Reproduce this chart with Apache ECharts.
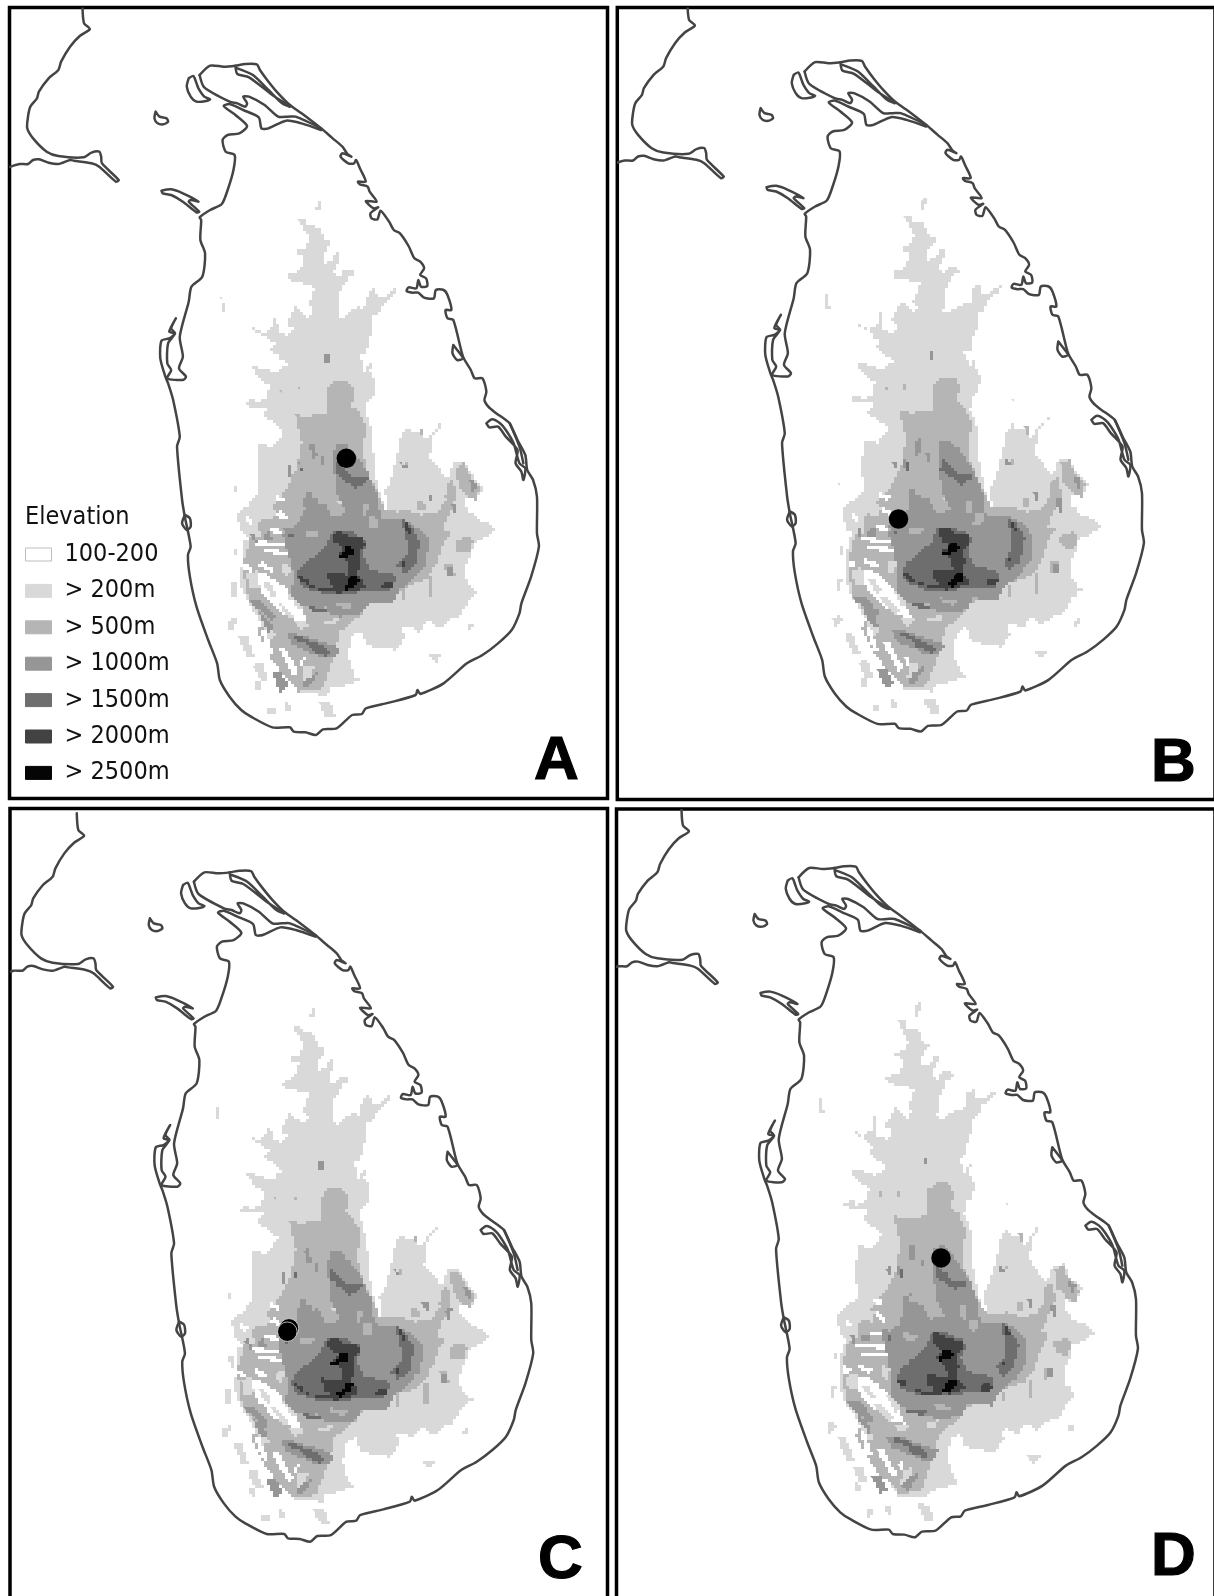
<!DOCTYPE html>
<html><head><meta charset="utf-8">
<style>html,body{margin:0;padding:0;background:#fff}#c{width:1214px;height:1596px}</style>
<script src="https://cdn.jsdelivr.net/npm/echarts@6/dist/echarts.min.js"></script>
</head><body><div id="c"></div>
<script>
// ---- coastline, map units A ----
const coastIndia=[[212,20],[216,70],[231,87],[205,108],[180,140],[157,185],[150,210],[125,235],[100,275],[95,295],[78,320],[72,350],[70,385],[85,415],[120,455],[150,468],[215,472],[235,458],[255,455],[260,470],[262,490],[305,540],[298,545],[255,500],[235,490],[190,482],[180,480],[150,492],[125,488],[100,478],[85,480],[72,492],[50,492],[20,503]];
const coastMain=[[513,225],[540,197],[575,200],[605,197],[630,192],[660,193],[668,210],[690,245],[715,280],[745,315],[775,340],[825,385],[855,415],[880,440],[893,462],[903,470],[880,460],[875,470],[895,490],[910,490],[915,480],[925,505],[940,545],[920,545],[925,553],[945,560],[950,575],[968,605],[940,603],[960,625],[972,622],[952,640],[955,655],[970,658],[978,632],[1000,665],[1012,690],[1028,700],[1050,738],[1065,775],[1080,785],[1090,805],[1080,825],[1095,835],[1098,858],[1082,860],[1075,840],[1070,865],[1050,862],[1045,873],[1060,878],[1075,878],[1090,893],[1115,895],[1120,870],[1140,870],[1150,885],[1160,930],[1145,930],[1150,955],[1165,960],[1190,1070],[1210,1110],[1220,1135],[1240,1135],[1250,1175],[1245,1200],[1255,1220],[1270,1235],[1300,1260],[1310,1270],[1330,1320],[1350,1365],[1355,1410],[1370,1440],[1380,1490],[1380,1600],[1385,1640],[1365,1730],[1340,1810],[1335,1840],[1315,1890],[1280,1930],[1240,1965],[1200,1990],[1140,2050],[1080,2082],[1073,2070],[1068,2085],[1000,2108],[940,2125],[930,2142],[905,2145],[865,2185],[830,2188],[812,2205],[785,2197],[755,2195],[745,2182],[700,2182],[645,2150],[620,2130],[590,2090],[565,2040],[558,1990],[535,1920],[505,1820],[488,1730],[483,1665],[490,1640],[475,1550],[468,1500],[455,1340],[462,1310],[445,1200],[432,1150],[425,1130],[412,1075],[415,1022],[435,1015],[450,1000],[435,995],[452,955],[440,985],[450,1000],[432,1030],[430,1090],[440,1110],[430,1135],[470,1140],[478,1130],[460,1105],[470,1070],[462,1010],[485,905],[492,860],[520,830],[527,760],[515,720],[517,660],[513,652],[540,630],[570,612],[585,570],[600,510],[603,465],[580,455],[572,420],[585,405],[615,400],[635,378],[605,345],[575,318],[590,312],[625,330],[665,352],[672,385],[690,385],[735,362],[775,370],[825,390]];
const coastPeninsula=[[513,225],[525,262],[590,305],[610,310],[630,320],[635,310],[625,290],[640,290],[680,315],[715,350],[740,350],[760,350],[825,385]];
const coastStrip=[[605,197],[610,222],[640,232],[700,285],[745,320],[725,310],[690,270],[650,225],[610,205]];
const coastKarai=[[485,235],[497,228],[505,250],[510,265],[525,290],[540,298],[530,303],[505,305],[490,290],[480,260],[485,235]];
const coastBatti=[[1250,1270],[1265,1258],[1285,1270],[1300,1290],[1320,1330],[1335,1390],[1350,1405],[1345,1440],[1340,1415],[1325,1390],[1330,1350],[1300,1310],[1280,1280],[1258,1282],[1250,1270]];
const coastBattiInner=[[1310,1270],[1335,1340],[1345,1390]];
const coastLoop=[[1165,1035],[1175,1050],[1190,1075],[1175,1080],[1163,1060],[1165,1035]];
const coastKalutara=[[475,1545],[488,1555],[490,1580],[480,1590],[468,1570],[475,1545]];
const coastDelft=[[400,335],[410,350],[428,355],[432,365],[420,373],[405,370],[397,355],[400,335]];
const coastMannar=[[415,572],[440,568],[470,580],[510,605],[490,600],[485,605],[512,635],[505,637],[470,605],[440,585],[418,580],[415,572]];
const coastLines=[coastIndia,coastMain,coastPeninsula,coastStrip,coastKarai,coastBatti,coastBattiInner,coastLoop,coastKalutara,coastDelft,coastMannar];

// ---- elevation, map units B ----
const elev200=[
[[235,55],[258,58],[262,78],[285,80],[300,90],[312,120],[340,128],[325,145],[308,170],[310,190],[330,185],[345,160],[362,158],[355,190],[340,215],[350,232],[370,210],[390,210],[405,225],[385,235],[375,258],[360,285],[355,345],[365,355],[385,335],[410,320],[430,325],[440,300],[445,270],[465,260],[470,290],[490,290],[515,270],[535,262],[520,290],[490,315],[475,345],[455,350],[458,390],[445,430],[440,460],[415,470],[430,495],[430,520],[445,490],[458,485],[450,520],[465,545],[462,590],[445,600],[435,640],[445,660],[458,700],[462,800],[478,880],[495,930],[505,945],[495,865],[512,840],[530,770],[545,700],[560,680],[575,700],[600,695],[615,725],[650,675],[672,665],[640,710],[630,775],[660,815],[680,840],[700,790],[735,785],[750,825],[765,840],[790,865],[770,900],[740,890],[735,920],[760,950],[800,970],[825,995],[790,1020],[760,1030],[755,1070],[740,1095],[735,1140],[760,1170],[775,1180],[745,1205],[720,1250],[695,1255],[660,1285],[625,1260],[600,1295],[570,1280],[545,1285],[555,1315],[530,1350],[500,1345],[465,1340],[440,1330],[425,1295],[395,1310],[385,1370],[405,1430],[420,1440],[385,1455],[335,1465],[325,1485],[240,1480],[205,1420],[160,1345],[130,1270],[105,1235],[80,1195],[60,1150],[65,1090],[70,1010],[50,940],[115,880],[110,810],[115,730],[150,740],[180,710],[190,690],[130,645],[145,620],[95,620],[70,605],[100,595],[110,610],[140,590],[150,555],[130,545],[95,500],[130,505],[165,520],[205,490],[165,460],[145,450],[165,430],[140,410],[100,385],[130,400],[160,380],[165,335],[175,400],[200,410],[220,385],[195,370],[220,330],[225,315],[260,350],[280,325],[265,310],[285,260],[250,250],[215,245],[200,225],[240,210],[255,170],[225,155],[255,140],[270,115],[250,80]],
[[293,5],[305,2],[303,25],[295,42],[288,25]],
[[1,288],[8,290],[14,335],[5,335]],
[[140,1525],[165,1520],[165,1540],[145,1545]],
[[195,1510],[215,1515],[215,1535],[200,1530]],
[[295,1505],[330,1510],[345,1555],[320,1555]],
[[20,1265],[45,1255],[50,1275],[35,1295]],
[[55,1305],[80,1310],[105,1375],[85,1375]],
[[100,1395],[125,1390],[145,1440],[125,1440]],
[[745,1270],[760,1265],[762,1285],[750,1290]],
[[620,1360],[670,1362],[650,1385]],
[[40,860],[50,860],[48,875]],
[[35,1150],[50,1150],[48,1190],[35,1185]],
[[42,1050],[55,1050],[55,1080]],
[[560,605],[568,605],[566,612]],
[[105,1440],[120,1440],[125,1470],[110,1470]]
];
const elev500=[
[[225,640],[250,650],[320,640],[325,560],[350,540],[380,540],[405,575],[395,620],[420,640],[440,690],[430,740],[435,800],[470,880],[495,930],[530,935],[560,930],[600,945],[650,935],[670,905],[690,900],[700,920],[680,960],[670,990],[690,1000],[670,1040],[655,1080],[640,1110],[620,1140],[560,1160],[500,1190],[440,1220],[420,1250],[360,1300],[350,1340],[340,1380],[320,1430],[310,1465],[240,1475],[225,1450],[180,1410],[150,1370],[110,1295],[130,1250],[85,1195],[75,1150],[70,1080],[90,1010],[120,960],[170,900],[200,860],[230,800],[245,720]],
[[705,800],[730,790],[750,830],[780,870],[770,900],[740,885],[715,850]],
[[680,850],[700,840],[710,900],[690,920],[675,890]],
[[675,1095],[695,1095],[705,1125],[680,1130]],
[[705,1020],[740,1005],[760,1030],[745,1060],[710,1050]],
[[590,905],[610,900],[615,930],[595,930]],
[[630,1130],[640,1130],[640,1190],[630,1190]],
[[545,1165],[555,1165],[555,1200],[545,1200]],
[[598,690],[612,695],[608,715]],
[[555,790],[570,785],[562,810]],
[[180,570],[190,570],[188,590]],
[[235,565],[245,570],[242,595]]
];
const over200=[
[[300,870],[325,875],[318,905]],
[[350,905],[395,905],[385,925]],
[[130,920],[170,930],[160,960],[125,950]],
[[85,985],[115,975],[120,1010],[90,1015]],
[[80,1120],[110,1110],[120,1160],[90,1165]],
[[225,1265],[280,1270],[250,1290]],
[[300,1270],[360,1250],[350,1275]],
[[110,1240],[135,1250],[165,1310],[145,1320]],
[[250,1400],[285,1395],[270,1440],[245,1450]],
[[150,780],[180,790],[170,830],[145,820]],
[[190,1090],[215,1100],[205,1130],[185,1120]]
];
const elevGaps=[
[[115,1120],[135,1120],[200,1170],[240,1230],[260,1265],[215,1255],[170,1220],[130,1180],[118,1150]],
[[105,1022],[200,1030],[200,1040],[105,1033]],
[[130,1048],[215,1056],[215,1066],[130,1058]],
[[150,985],[190,992],[190,1002],[150,995]],
[[60,1000],[85,1015],[82,1025],[60,1012]],
[[70,1092],[95,1105],[92,1115],[68,1102]],
[[165,888],[195,900],[190,910],[165,900]],
[[175,930],[205,955],[195,960],[170,940]],
[[80,950],[100,965],[95,975],[78,960]],
[[120,1085],[160,1105],[155,1115],[118,1095]],
[[122,1290],[135,1290],[160,1360],[148,1365]],
[[175,1340],[190,1340],[235,1420],[222,1425]],
[[235,1385],[255,1370],[250,1405]],
[[145,1380],[160,1385],[175,1440],[155,1440]]
];
const gapStrips=[
[[165,1205],[180,1205],[225,1250],[215,1255]],
[[200,1180],[215,1180],[245,1225],[235,1228]],
[[130,1150],[142,1150],[170,1185],[160,1190]]
];
const elev1000=[
[[345,735],[375,730],[440,815],[470,880],[480,945],[490,960],[545,960],[590,985],[625,1020],[620,1090],[590,1130],[540,1175],[520,1210],[450,1205],[430,1240],[370,1250],[310,1235],[250,1215],[215,1180],[220,1120],[190,1000],[240,960],[260,900],[300,890],[330,950],[380,940],[350,880],[340,780]],
[[200,1300],[240,1305],[300,1325],[360,1345],[345,1375],[300,1370],[260,1350],[220,1335]],
[[85,1200],[115,1200],[165,1250],[155,1260]],
[[155,1420],[180,1420],[205,1465],[185,1475]],
[[240,1450],[290,1410],[300,1420],[270,1465]],
[[270,730],[285,725],[290,770],[275,775]],
[[235,790],[245,790],[240,815]],
[[255,880],[275,875],[270,920],[250,925]],
[[185,985],[205,980],[205,1005]],
[[130,1000],[150,995],[155,1020],[130,1020]],
[[90,1000],[105,995],[110,1030]],
[[200,800],[215,790],[210,830]],
[[300,770],[312,768],[310,800]],
[[620,890],[640,885],[640,915]],
[[690,910],[712,905],[710,945]],
[[745,840],[770,850],[765,885]],
[[680,1100],[700,1100],[700,1125],[682,1125]],
[[115,1240],[135,1250],[160,1290],[150,1295]],
[[315,465],[326,465],[326,487],[315,487]],
[[540,790],[560,800],[548,812]]
];
const over500=[
[[285,860],[330,865],[330,905],[295,910]],
[[425,910],[445,915],[440,950],[425,945]],
[[255,990],[300,1000],[290,1015],[255,1010]],
[[345,1205],[400,1215],[390,1225],[350,1220]],
[[280,1225],[320,1222],[310,1234]],
[[450,950],[480,955],[470,985],[445,980]]
];
const elev1500=[
[[340,990],[375,990],[430,1015],[440,1040],[425,1070],[450,1110],[500,1120],[525,1130],[525,1150],[510,1170],[460,1170],[400,1180],[310,1180],[250,1160],[230,1120],[250,1090],[290,1060],[320,1030]],
[[545,960],[575,985],[600,1030],[585,1100],[555,1120],[530,1090],[560,1060],[560,1020]],
[[350,790],[365,805],[400,835],[445,835],[440,850],[410,865],[385,845],[345,815]],
[[255,1320],[300,1335],[330,1360],[320,1370],[280,1350]],
[[265,1220],[320,1228],[318,1238],[265,1230]],
[[225,1305],[270,1320],[265,1330],[225,1318]],
[[240,800],[250,800],[248,825]],
[[205,1000],[225,1005],[215,1020]]
];
const elev2000=[
[[345,990],[375,1000],[385,1010],[430,1015],[435,1040],[415,1060],[420,1100],[410,1130],[440,1160],[400,1175],[360,1170],[330,1150],[320,1115],[350,1120],[385,1125],[380,1085],[355,1060],[370,1040],[340,1020]],
[[230,1125],[260,1140],[270,1160],[310,1175],[370,1180],[370,1165],[310,1165],[255,1150]],
[[495,1145],[525,1150],[515,1165],[480,1165]],
[[545,1080],[560,1085],[550,1105]],
[[555,965],[575,1000],[565,1005]]
];
const elev2500=[
[[375,1040],[395,1043],[405,1060],[385,1070],[370,1075],[350,1070],[365,1060]],
[[395,1130],[418,1135],[412,1155],[385,1170],[368,1160]]
];
const levelNames=['100-200','> 200m','> 500m','> 1000m','> 1500m','> 2000m','> 2500m'];
const levelColors=['#ffffff','#d9d9d9','#b5b5b5','#969696','#6e6e6e','#424242','#050505'];
const levelShapes=[[],elev200,elev500,elev1000,elev1500,elev2000,elev2500];

// sampling sites, map units B, per panel
const sitesA=[[379,775]];
const sitesB=[[220.5,967.5]];
const sitesC=[[224,965],[219,975]];
const sitesD=[[366,767]];
const panelLetters=['A','B','C','D'];

const UX=2.57,UY=3,OX=220,OY=200;
// frame rect [left,top,right,bottom], map shift [dx,dy], letter left/top, sites
const panels=[
 {r:[9.5,7.5,607.5,798.5],s:[0,0],l:[534,731],d:sitesA},
 {r:[617.3,7.5,1215,799.5],s:[605,-3.5],l:[1151,733],d:sitesB},
 {r:[10,808.5,607.5,1612],s:[-5.7,806.7],l:[538,1530],d:sitesC},
 {r:[616.5,809,1215,1612],s:[599,802.3],l:[1151,1527],d:sitesD}
];
const STEP=3;
function stair(pts){
  const out=[];
  for(let i=0;i<pts.length;i++){
    const a=pts[i],b=pts[(i+1)%pts.length];
    const dx=b[0]-a[0],dy=b[1]-a[1],n=Math.max(1,Math.ceil(Math.max(Math.abs(dx),Math.abs(dy))/STEP));
    for(let k=0;k<n;k++){
      const x=Math.round((a[0]+dx*k/n)/STEP)*STEP,y=Math.round((a[1]+dy*k/n)/STEP)*STEP;
      const l=out[out.length-1];
      if(l&&l[0]!==x&&l[1]!==y)out.push([x,l[1]]);
      if(!l||l[0]!==x||l[1]!==y)out.push([x,y]);
    }
  }
  return out;
}
function polySeries(name,shapes,color,pi){
  return {type:'custom',name,coordinateSystem:'cartesian2d',xAxisIndex:pi*2+1,yAxisIndex:pi*2+1,clip:true,silent:true,
    data:shapes.map((s,i)=>[s[0][0],s[0][1],i]),
    renderItem:(p,api)=>({type:'polygon',shape:{points:stair(shapes[api.value(2)].map(q=>api.coord(q)))},style:{fill:color}})};
}
const grid=[],xAxis=[],yAxis=[],series=[];
panels.forEach((P,pi)=>{
  const [L,T,R,B]=P.r,[dx,dy]=P.s;
  grid.push({show:true,left:L,top:T,width:R-L,height:B-T,borderColor:'#000',borderWidth:3.5,backgroundColor:'#fff',containLabel:false,outerBoundsMode:'none'});
  xAxis.push({type:'value',show:false,gridIndex:pi,min:(L-dx)*UX,max:(R-dx)*UX,position:'bottom'});
  xAxis.push({type:'value',show:false,gridIndex:pi,min:(L-dx-OX)*UY,max:(R-dx-OX)*UY,position:'top'});
  yAxis.push({type:'value',show:false,gridIndex:pi,inverse:true,min:(T-dy)*UY,max:(B-dy)*UY,position:'left'});
  yAxis.push({type:'value',show:false,gridIndex:pi,inverse:true,min:(T-dy-OY)*UY,max:(B-dy-OY)*UY,position:'right'});
  levelNames.forEach((n,i)=>{
    series.push(polySeries(n,levelShapes[i],levelColors[i],pi));
    if(i===2){
      series.push(polySeries('> 200m',over200,levelColors[1],pi));
      series.push(polySeries('gaps',elevGaps,'#ffffff',pi));
      series.push(polySeries('> 200m',gapStrips,levelColors[1],pi));
    }
    if(i===3)series.push(polySeries('> 500m',over500,levelColors[2],pi));
  });
  series.push({type:'custom',name:'coast',coordinateSystem:'cartesian2d',xAxisIndex:pi*2,yAxisIndex:pi*2,clip:true,silent:true,
    data:coastLines.map((s,i)=>[s[0][0],s[0][1],i]),
    renderItem:(p,api)=>({type:'polyline',shape:{smooth:0.25,points:coastLines[api.value(2)].map(q=>api.coord(q))},
      style:{fill:null,stroke:'#444444',lineWidth:2.5,lineJoin:'round',lineCap:'round'}})});
  series.push({type:'scatter',name:'sites',xAxisIndex:pi*2+1,yAxisIndex:pi*2+1,data:P.d,symbolSize:19.5,z:5,silent:true,
    itemStyle:{color:'#000',borderColor:'#e0e0e0',borderWidth:P.d.length>1?0.8:0,opacity:1}});
});
const titles=panels.map((P,i)=>({text:panelLetters[i],left:P.l[0],top:P.l[1],padding:0,
  textStyle:{fontFamily:'Liberation Sans',fontWeight:'bold',fontSize:62,color:'#000',textBorderColor:'#000',textBorderWidth:1.2}}));
titles.push({text:'Elevation',left:25,top:505,padding:0,
  textStyle:{fontFamily:'DejaVu Sans Condensed, Noto Sans',fontWeight:'normal',fontSize:25,color:'#111'}});
const chart=echarts.init(document.getElementById('c'),null,{renderer:'canvas'});
chart.setOption({animation:false,backgroundColor:'#fff',grid,xAxis,yAxis,series,title:titles,
  legend:{orient:'vertical',left:25,top:542,padding:0,itemWidth:26,itemHeight:13,itemGap:11.4,selectedMode:false,
    textStyle:{fontFamily:'DejaVu Sans Condensed, Noto Sans',fontSize:25,color:'#111',lineHeight:13,padding:[0,0,0,8]},
    data:levelNames.map((n,i)=>({name:n,icon:'rect',itemStyle:{color:levelColors[i],borderColor:i?levelColors[i]:'#bdbdbd',borderWidth:1}}))}
});
</script></body></html>
